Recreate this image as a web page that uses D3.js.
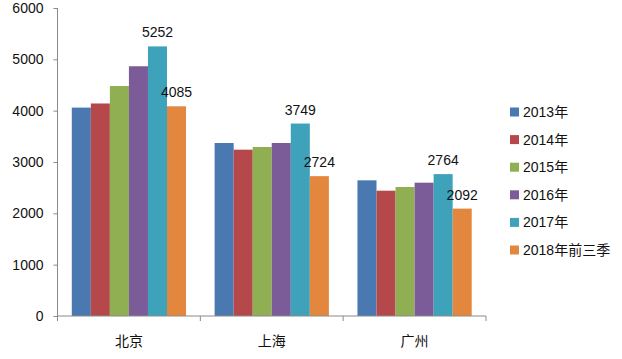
<!DOCTYPE html>
<html><head><meta charset="utf-8">
<script src="https://cdn.jsdelivr.net/npm/d3@7"></script>
<style>body{margin:0;background:#fff}svg{display:block}</style>
</head><body>
<svg id="c" width="622" height="359"></svg>
<script>
const categories = ["北京", "上海", "广州"];
const seriesNames = ["2013年", "2014年", "2015年", "2016年", "2017年", "2018年前三季"];
const v2013 = [4060, 3370, 2643];
const v2014 = [4140, 3240, 2441];
const v2015 = [4480, 3292, 2513];
const v2016 = [4865, 3370, 2597];
const v2017 = [5252, 3749, 2764];
const v2018 = [4085, 2724, 2092];
const yTicks = [0, 1000, 2000, 3000, 4000, 5000, 6000];
const labelled = ["2017年", "2018年前三季"];
const colors = ["#4a78b0", "#b5484a", "#90ae52", "#7b5b98", "#3fa2bb", "#e3873e"];

const seriesValues = [v2013, v2014, v2015, v2016, v2017, v2018];
const svg = d3.select("#c");
const font = "'Liberation Sans', Arial, sans-serif";
const m = {left: 57.5, right: 486, top: 8, bottom: 316};

const x0 = d3.scaleBand().domain(categories).range([m.left, m.right]).paddingInner(0).paddingOuter(0);
const inner = d3.scaleBand().domain(seriesNames)
  .range([x0.bandwidth()*0.1, x0.bandwidth()*0.9]);
const y = d3.scaleLinear().domain([0, 6000]).range([m.bottom, m.top]);
const color = d3.scaleOrdinal().domain(seriesNames).range(colors);

// y axis
const ya = svg.append("g").attr("transform", `translate(${m.left},0)`)
  .call(d3.axisLeft(y).tickValues(yTicks).tickSize(4).tickPadding(10).tickFormat(d3.format("d")));
ya.select(".domain").attr("stroke", "#8a8a8a").attr("d", `M0,${m.top}V${m.bottom}`);
ya.selectAll(".tick line").attr("stroke", "#8a8a8a");
ya.selectAll("text").attr("font-family", font).attr("font-size", 14).attr("fill", "#111");

// bars
categories.forEach((c, ci) => {
  const g = svg.append("g").attr("transform", `translate(${x0(c)},0)`);
  seriesNames.forEach((s, si) => {
    const v = seriesValues[si][ci];
    g.append("rect").attr("x", inner(s)).attr("width", inner.bandwidth())
      .attr("y", y(v)).attr("height", y(0) - y(v)).attr("fill", color(s));
    if (labelled.includes(s)) {
      g.append("text").attr("x", inner(s) + inner.bandwidth()/2).attr("y", y(v) - 9)
        .attr("text-anchor", "middle").attr("font-family", font).attr("font-size", 14)
        .attr("fill", "#111").text(v);
    }
  });
});

// x axis
const xa = svg.append("g").attr("transform", `translate(0,${m.bottom})`);
xa.append("path").attr("d", `M${m.left},0H${m.right}`).attr("stroke", "#8a8a8a").attr("fill", "none");
const bounds = categories.map(c => x0(c)).concat([m.right]);
xa.selectAll("line.t").data(bounds).enter().append("line")
  .attr("x1", d => d).attr("x2", d => d).attr("y1", 0).attr("y2", 5).attr("stroke", "#8a8a8a");
xa.selectAll("text").data(categories).enter().append("text")
  .attr("x", d => x0(d) + x0.bandwidth()/2).attr("y", 30)
  .attr("text-anchor", "middle").attr("font-family", "'Noto Sans CJK SC', sans-serif")
  .attr("font-size", 14).attr("fill", "#111").text(d => d);

// legend
const lg = svg.append("g").attr("transform", "translate(510,112)");
seriesNames.forEach((s, i) => {
  const row = lg.append("g").attr("transform", `translate(0,${i*27.6})`);
  row.append("rect").attr("x", 0).attr("y", -4.5).attr("width", 9).attr("height", 9).attr("fill", color(s));
  row.append("text").attr("x", 13).attr("y", 5).attr("font-family", "'Liberation Sans', 'Noto Sans CJK SC', sans-serif")
    .attr("font-size", 14).attr("fill", "#111").text(s);
});
</script>
</body></html>
